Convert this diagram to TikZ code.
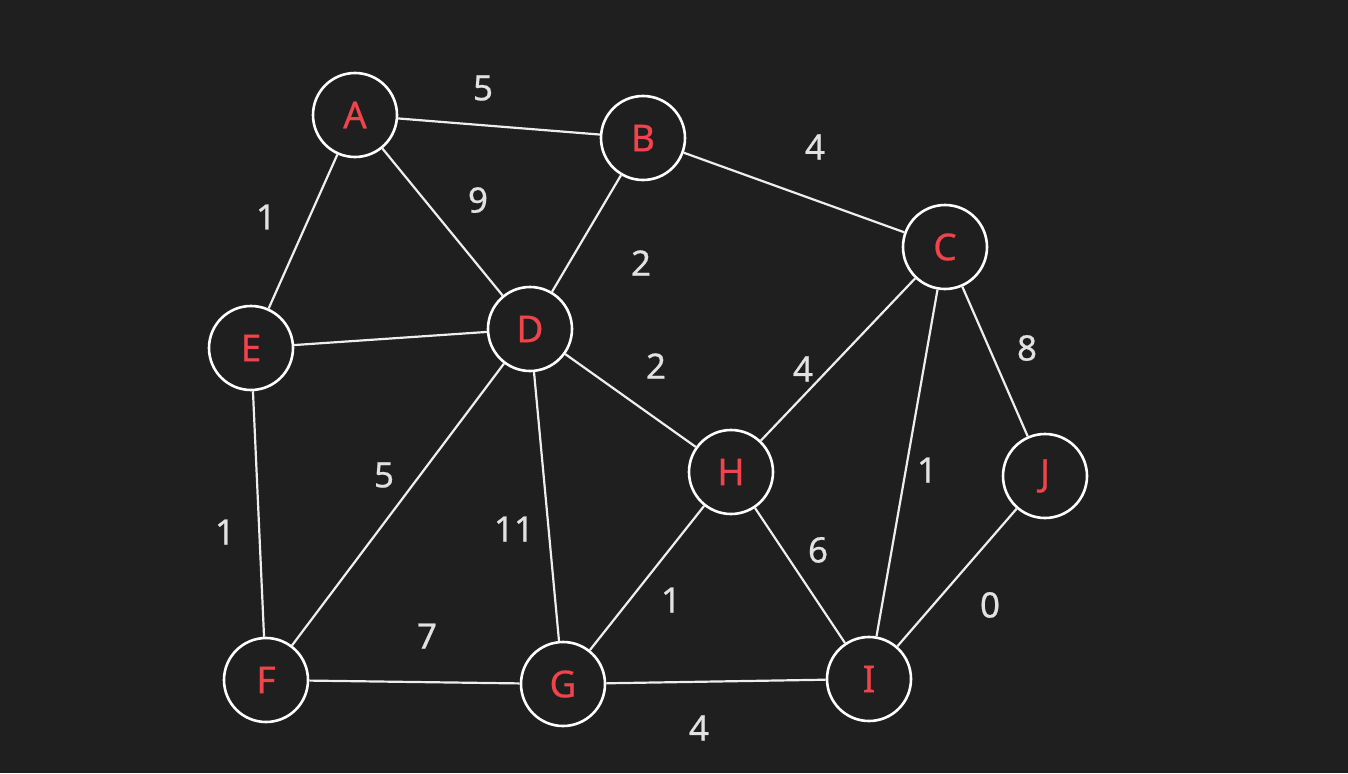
\documentclass[tikz,border=0pt]{standalone}
\usepackage{fontspec}
\setmainfont{Noto Sans}
\newfontfamily\graphfont[FakeBold=0.6]{Noto Sans}
\definecolor{bgdark}{HTML}{1F1F1F}
\definecolor{edgewhite}{HTML}{EEEEEE}
\definecolor{labelgray}{HTML}{E2E2E2}
\definecolor{namered}{HTML}{F0434C}
\begin{document}
\begin{tikzpicture}[x=1pt,y=-1pt,
  vertex/.style={circle,draw=white,line width=2.6pt,fill=bgdark,minimum size=84pt,inner sep=0pt,
    text=namered,font=\graphfont\fontsize{37}{37}\selectfont},
  weight/.style={text=labelgray,font=\graphfont\fontsize{35}{35}\selectfont},
  link/.style={draw=edgewhite,line width=2.2pt}]
\fill[bgdark] (0,0) rectangle (1348,773);
\useasboundingbox (0,0) rectangle (1348,773);
% vertices
\node[vertex] (A) at (355,115) {A};
\node[vertex] (B) at (643,138) {B};
\node[vertex] (C) at (945,247) {C};
\node[vertex] (D) at (530,329) {D};
\node[vertex] (E) at (251,348) {E};
\node[vertex] (F) at (266,680) {F};
\node[vertex] (G) at (563,684) {G};
\node[vertex] (H) at (731,472) {H};
\node[vertex] (I) at (869,679) {I};
\node[vertex] (J) at (1045,476) {J};
% edges
\draw[link] (A) -- (B);
\draw[link] (A) -- (E);
\draw[link] (A) -- (D);
\draw[link] (B) -- (D);
\draw[link] (B) -- (C);
\draw[link] (C) -- (H);
\draw[link] (C) -- (I);
\draw[link] (C) -- (J);
\draw[link] (E) -- (D);
\draw[link] (E) -- (F);
\draw[link] (D) -- (F);
\draw[link] (D) -- (G);
\draw[link] (D) -- (H);
\draw[link] (H) -- (G);
\draw[link] (H) -- (I);
\draw[link] (F) -- (G);
\draw[link] (G) -- (I);
\draw[link] (J) -- (I);
% edge weights
\node[weight] (wAB) at (483,88) {5};
\node[weight] (wBC) at (815,147) {4};
\node[weight] (wAD) at (478,200) {9};
\node[weight] (wAE) at (266,217) {1};
\node[weight] (wBD) at (641,263) {2};
\node[weight] (wCJ) at (1027,348) {8};
\node[weight] (wDH) at (656,366) {2};
\node[weight] (wCH) at (803,369) {4};
\node[weight] (wDF) at (384,475) {5};
\node[weight] (wCI) at (927,470) {1};
\node[weight] (wEF) at (225,532) {1};
\node[weight] (wDG) at (514,529) {11};
\node[weight] (wHI) at (818,550) {6};
\node[weight] (wHG) at (671,600) {1};
\node[weight] (wJI) at (990,605) {0};
\node[weight] (wFG) at (427,636) {7};
\node[weight] (wGI) at (699,728) {4};
\end{tikzpicture}
\end{document}
